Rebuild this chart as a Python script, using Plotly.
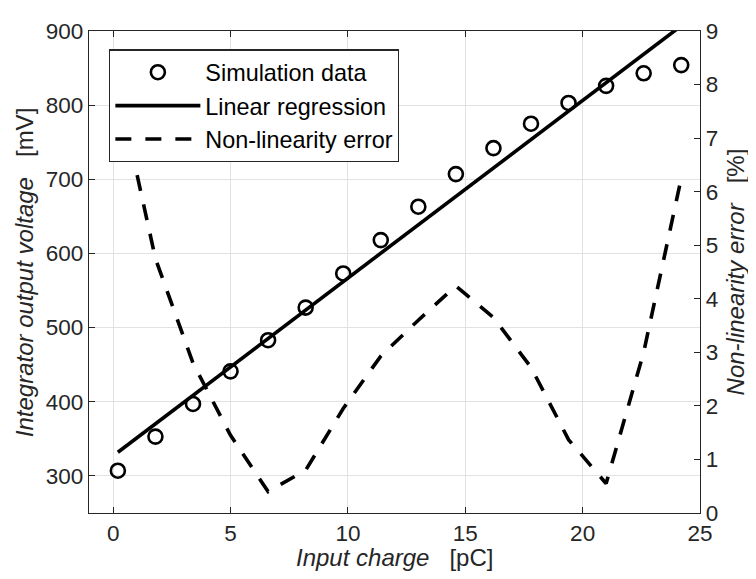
import plotly.graph_objects as go

# ---- data ----
charge_pC = [0.2, 1.8, 3.4, 5.0, 6.6, 8.2, 9.8, 11.4, 13.0, 14.6, 16.2, 17.8, 19.4, 21.0, 22.6, 24.2]
voltage_mV = [307, 353, 397, 441, 483, 527, 573, 618, 663, 707, 742, 775, 803, 826, 843, 854]
regression_charge = [0.2, 24.2]
regression_mV = [332, 907]
nonlinearity_pct = [7.95, 4.75, 2.8, 1.45, 0.4, 0.8, 1.95, 2.93, 3.6, 4.24, 3.65, 2.72, 1.37, 0.55, 3.0, 6.25]

x_ticks = [0, 5, 10, 15, 20, 25]
y_ticks = [300, 400, 500, 600, 700, 800, 900]
y2_ticks = [0, 1, 2, 3, 4, 5, 6, 7, 8, 9]

FONT = "Liberation Sans, Arial, Helvetica, sans-serif"
INK = "#262626"
GRID = "#e2e2e2"

fig = go.Figure()
fig.add_trace(go.Scatter(
    x=charge_pC, y=voltage_mV, mode="markers", name="Simulation data",
    marker=dict(symbol="circle-open", size=14, color="black", line=dict(width=2.6, color="black")),
))
fig.add_trace(go.Scatter(
    x=regression_charge, y=regression_mV, mode="lines", name="Linear regression",
    line=dict(color="black", width=3.6),
))
fig.add_trace(go.Scatter(
    x=charge_pC, y=nonlinearity_pct, mode="lines", name="Non-linearity error", yaxis="y2",
    line=dict(color="black", width=3.6, dash="16px,14px"),
))

axis_common = dict(
    showline=True, linecolor=INK, linewidth=1.3,
    ticks="inside", ticklen=6, tickwidth=1.2, tickcolor=INK,
    tickfont=dict(family=FONT, size=22.5, color=INK),
    ticklabeloverflow="allow",
    zeroline=False,
)

fig.update_layout(
    width=740, height=563,
    margin=dict(l=81, r=48, t=11, b=58),
    paper_bgcolor="white", plot_bgcolor="white",
    font=dict(family=FONT, color=INK),
    showlegend=True,
    legend=dict(
        x=0.033, y=0.962, xanchor="left", yanchor="top",
        bgcolor="white", bordercolor=INK, borderwidth=1.2,
        font=dict(family=FONT, size=23.4, color="black"),
        itemwidth=85, tracegroupgap=0,
    ),
    xaxis=dict(
        range=[-1.03, 25], tickvals=x_ticks, mirror="ticks",
        showgrid=True, gridcolor=GRID, gridwidth=1,
        **axis_common,
    ),
    yaxis=dict(
        range=[250, 900], tickvals=y_ticks,
        showgrid=True, gridcolor=GRID, gridwidth=1,
        **axis_common,
    ),
    yaxis2=dict(
        range=[0, 9], tickvals=y2_ticks, overlaying="y", side="right",
        showgrid=False,
        **axis_common,
    ),
    annotations=[
        dict(text="<i>Input charge</i>&nbsp;&nbsp;&nbsp;[pC]", xref="paper", yref="paper",
             x=0.5, y=-0.092, xanchor="center", yanchor="middle", showarrow=False,
             font=dict(family=FONT, size=24, color=INK)),
        dict(text="<i>Integrator output voltage</i>&nbsp;&nbsp;&nbsp;[mV]", xref="paper", yref="paper",
             x=-0.106, y=0.5, xanchor="center", yanchor="middle", textangle=-90, showarrow=False,
             font=dict(family=FONT, size=24, color=INK)),
        dict(text="<i>Non-linearity error</i>&nbsp;&nbsp;&nbsp;[%]", xref="paper", yref="paper",
             x=1.058, y=0.5, xanchor="center", yanchor="middle", textangle=-90, showarrow=False,
             font=dict(family=FONT, size=24, color=INK)),
    ],
)

fig.write_html("out.html")
